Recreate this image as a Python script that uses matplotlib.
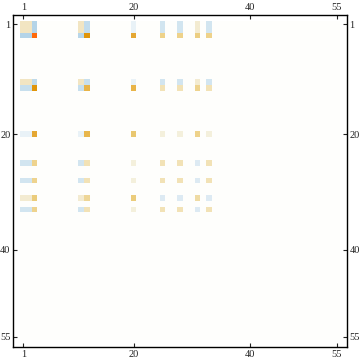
import numpy as np
import matplotlib
matplotlib.use("Agg")
import matplotlib.pyplot as plt
from matplotlib.colors import LinearSegmentedColormap

# matrix size and the rows/columns that carry non-zero entries
N = 55
idx = [1, 2, 3, 11, 12, 20, 25, 28, 31, 33]

# block of values on idx x idx (everything else is zero)
r1 = [0.15, 0.15, -0.6, 0.15, -0.45, -0.05, -0.25, -0.25, 0.1, -0.25]
r3 = [-0.6, -0.6, 1.0, -0.55, 0.8, 0.65, 0.35, 0.35, 0.38, 0.35]
r11 = [0.15, 0.15, -0.5, 0.15, -0.4, -0.05, -0.25, -0.25, 0.1, -0.25]
r12 = [-0.4, -0.4, 0.8, -0.4, 0.6, 0.6, 0.2, 0.2, 0.33, 0.2]
r20 = [-0.05, -0.05, 0.65, -0.05, 0.58, 0.45, 0.06, 0.06, 0.35, 0.06]
r25 = [-0.25, -0.25, 0.33, -0.25, 0.2, 0.06, 0.2, 0.2, -0.12, 0.2]
r31 = [0.1, 0.1, 0.4, 0.1, 0.3, 0.4, -0.12, -0.12, 0.25, -0.12]
block = [r1, r1, r3, r11, r12, r20, r25, r25, r31, r25]

ticks = [1, 20, 40, 55]

# build the full matrix
M = np.zeros((N, N))
for i, ri in enumerate(idx):
    for j, cj in enumerate(idx):
        M[ri - 1, cj - 1] = block[i][j]

# blue (negative) - white (zero) - beige/orange (positive)
anchors = [
    (-1.0, "#9cc4e0"),
    (-0.6, "#b4d4e8"),
    (-0.4, "#c8e0ee"),
    (-0.25, "#d2e5f0"),
    (-0.12, "#deebf4"),
    (-0.05, "#eaf3f8"),
    (0.0, "#ffffff"),
    (0.06, "#f4f0dc"),
    (0.15, "#f3e6c3"),
    (0.2, "#f2e2b6"),
    (0.25, "#f0dca6"),
    (0.35, "#eed28a"),
    (0.45, "#eac870"),
    (0.6, "#e8b448"),
    (0.65, "#e5a835"),
    (0.8, "#e0960a"),
    (1.0, "#ff6a0a"),
]
cmap = LinearSegmentedColormap.from_list(
    "mma", [((v + 1) / 2, c) for v, c in anchors])

fig = plt.figure(figsize=(3.6, 3.63), dpi=100)
ax = fig.add_axes([0.037, 0.043, 0.926, 0.915])
ax.imshow(M, cmap=cmap, vmin=-1, vmax=1, interpolation="nearest",
          extent=(0.5, N + 0.5, N + 0.5, 0.5), aspect="auto")
ax.set_xlim(-0.72, N + 1.72)
ax.set_ylim(N + 1.85, -0.55)

ax.set_xticks(ticks)
ax.set_yticks(ticks)
ax.set_xticklabels([str(t) for t in ticks])
ax.set_yticklabels([str(t) for t in ticks])
ax.tick_params(direction="in", length=3, width=0.8, labelsize=7.5,
               top=True, right=True, labeltop=True, labelright=True,
               pad=2, colors="#222222")
for lab in ax.get_xticklabels() + ax.get_yticklabels():
    lab.set_fontfamily("Liberation Serif")
for sp in ax.spines.values():
    sp.set_linewidth(1.0)

fig.savefig("out.png", dpi=100)
